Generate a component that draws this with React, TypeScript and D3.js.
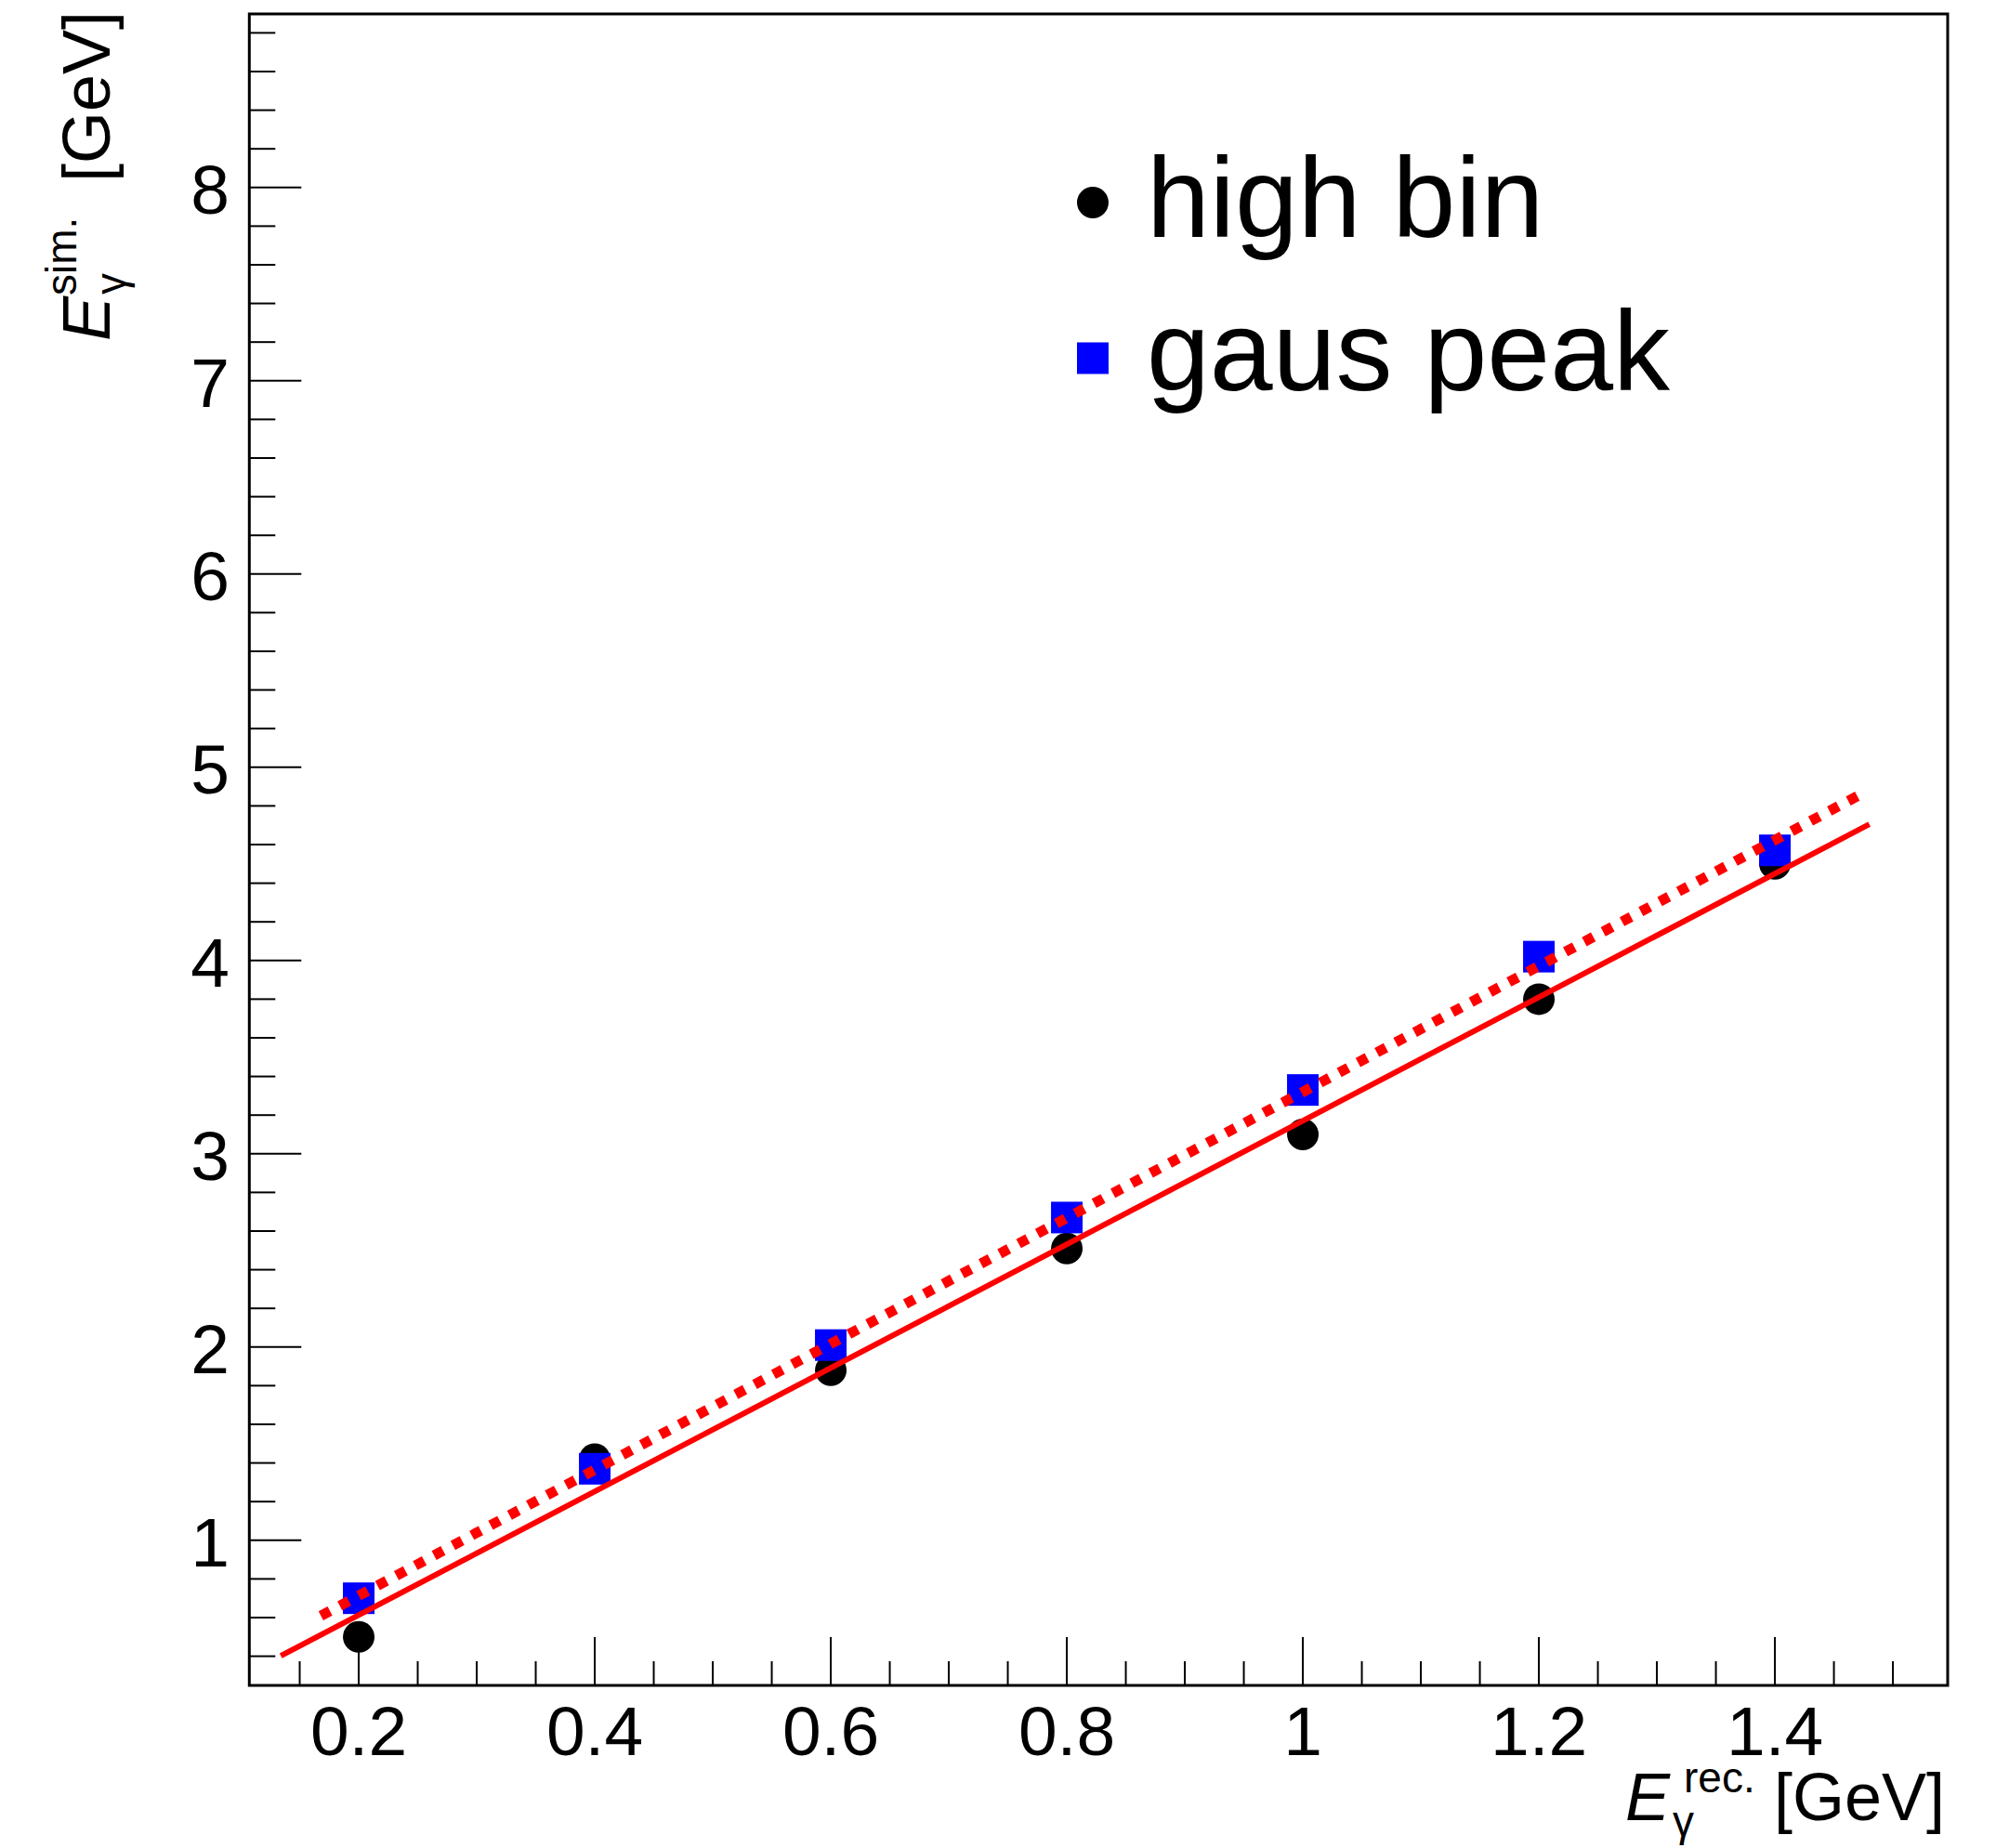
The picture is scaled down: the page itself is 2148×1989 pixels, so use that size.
import React from "react";
import * as d3 from "d3";

// ---- data ----
const energies = [0.2, 0.4, 0.6, 0.8, 1.0, 1.2, 1.4];
const highBin = [0.5, 1.42, 1.88, 2.51, 3.1, 3.8, 4.5];
const gausPeak = [0.7, 1.37, 2.01, 2.67, 3.33, 4.02, 4.57];

// straight fit lines: [x, y] end points
const fitSolid: [number, number][] = [
  [0.134, 0.402],
  [1.48, 4.705],
];
const fitDotted: [number, number][] = [
  [0.168, 0.609],
  [1.477, 4.874],
];

const xMajorTicks = [0.2, 0.4, 0.6, 0.8, 1.0, 1.2, 1.4];
const xTickLabels = ["0.2", "0.4", "0.6", "0.8", "1", "1.2", "1.4"];
const yMajorTicks = [1, 2, 3, 4, 5, 6, 7, 8];
const yTickLabels = ["1", "2", "3", "4", "5", "6", "7", "8"];

const legendLabels = ["high bin", "gaus peak"];

const W = 2148;
const H = 1989;
const FL = 268.3;
const FR = 2096;
const FT = 15;
const FB = 1814;
const FONT = "'Liberation Sans', Arial, Helvetica, sans-serif";

export default function App() {
  const x = d3.scaleLinear().domain([0.1073, 1.5464]).range([FL, FR]);
  const y = d3.scaleLinear().domain([0.249, 8.898]).range([FB, FT]);

  const xMinor = d3
    .range(3, 31)
    .map((i) => i * 0.05)
    .filter((v) => !xMajorTicks.some((m) => Math.abs(m - v) < 1e-6));
  const yMinor = d3
    .range(2, 45)
    .map((i) => i * 0.2)
    .filter((v) => !yMajorTicks.some((m) => Math.abs(m - v) < 1e-6));

  const line = d3
    .line<[number, number]>()
    .x((d) => x(d[0]))
    .y((d) => y(d[1]));

  const markerR = 17;
  const sq = 34;

  return (
    <svg
      width={W}
      height={H}
      style={{ position: "absolute", left: 0, top: 0, background: "#fff" }}
      fontFamily={FONT}
    >
      <rect x={0} y={0} width={W} height={H} fill="#fff" />

      {/* markers */}
      {energies.map((e, i) => (
        <circle key={"c" + i} cx={x(e)} cy={y(highBin[i])} r={markerR} fill="#000" />
      ))}
      {energies.map((e, i) => (
        <rect
          key={"s" + i}
          x={x(e) - sq / 2}
          y={y(gausPeak[i]) - sq / 2}
          width={sq}
          height={sq}
          fill="#0000ff"
        />
      ))}

      {/* fit lines */}
      <path d={line(fitSolid) || ""} stroke="#ff0000" strokeWidth={6} fill="none" />
      <path
        d={line(fitDotted) || ""}
        stroke="#ff0000"
        strokeWidth={11}
        strokeDasharray="11 12"
        fill="none"
      />

      {/* frame */}
      <rect
        x={FL}
        y={FT}
        width={FR - FL}
        height={FB - FT}
        fill="none"
        stroke="#000"
        strokeWidth={3}
      />

      {/* x ticks */}
      {xMajorTicks.map((t, i) => (
        <line key={"xm" + i} x1={x(t)} x2={x(t)} y1={FB} y2={FB - 52} stroke="#000" strokeWidth={2} />
      ))}
      {xMinor.map((t, i) => (
        <line key={"xn" + i} x1={x(t)} x2={x(t)} y1={FB} y2={FB - 26} stroke="#000" strokeWidth={2} />
      ))}
      {xMajorTicks.map((t, i) => (
        <text key={"xl" + i} x={x(t)} y={1889} fontSize={75} textAnchor="middle" fill="#000">
          {xTickLabels[i]}
        </text>
      ))}

      {/* y ticks */}
      {yMajorTicks.map((t, i) => (
        <line key={"ym" + i} x1={FL} x2={FL + 56} y1={y(t)} y2={y(t)} stroke="#000" strokeWidth={2} />
      ))}
      {yMinor.map((t, i) => (
        <line key={"yn" + i} x1={FL} x2={FL + 28} y1={y(t)} y2={y(t)} stroke="#000" strokeWidth={2} />
      ))}
      {yMajorTicks.map((t, i) => (
        <text key={"yl" + i} x={247} y={y(t) + 28} fontSize={75} textAnchor="end" fill="#000">
          {yTickLabels[i]}
        </text>
      ))}

      {/* x title */}
      <g fill="#000">
        <text x={1749} y={1959} fontSize={72} fontStyle="italic">E</text>
        <text x={1800} y={1976} fontSize={46}>γ</text>
        <text x={1812} y={1929} fontSize={46}>rec.</text>
        <text x={2093} y={1959} fontSize={72} textAnchor="end">[GeV]</text>
      </g>

      {/* y title */}
      <g fill="#000" transform="translate(118,0) rotate(-90)">
        <text x={-367} y={0} fontSize={72} fontStyle="italic">E</text>
        <text x={-317} y={17} fontSize={46}>γ</text>
        <text x={-318} y={-36} fontSize={46}>sim.</text>
        <text x={-12} y={0} fontSize={72} textAnchor="end">[GeV]</text>
      </g>

      {/* legend */}
      <circle cx={1176} cy={218} r={17} fill="#000" />
      <rect x={1176 - 17} y={385.5 - 17} width={34} height={34} fill="#0000ff" />
      <text x={1234} y={255} fontSize={122} fill="#000">{legendLabels[0]}</text>
      <text x={1234} y={420} fontSize={122} fill="#000">{legendLabels[1]}</text>
    </svg>
  );
}
